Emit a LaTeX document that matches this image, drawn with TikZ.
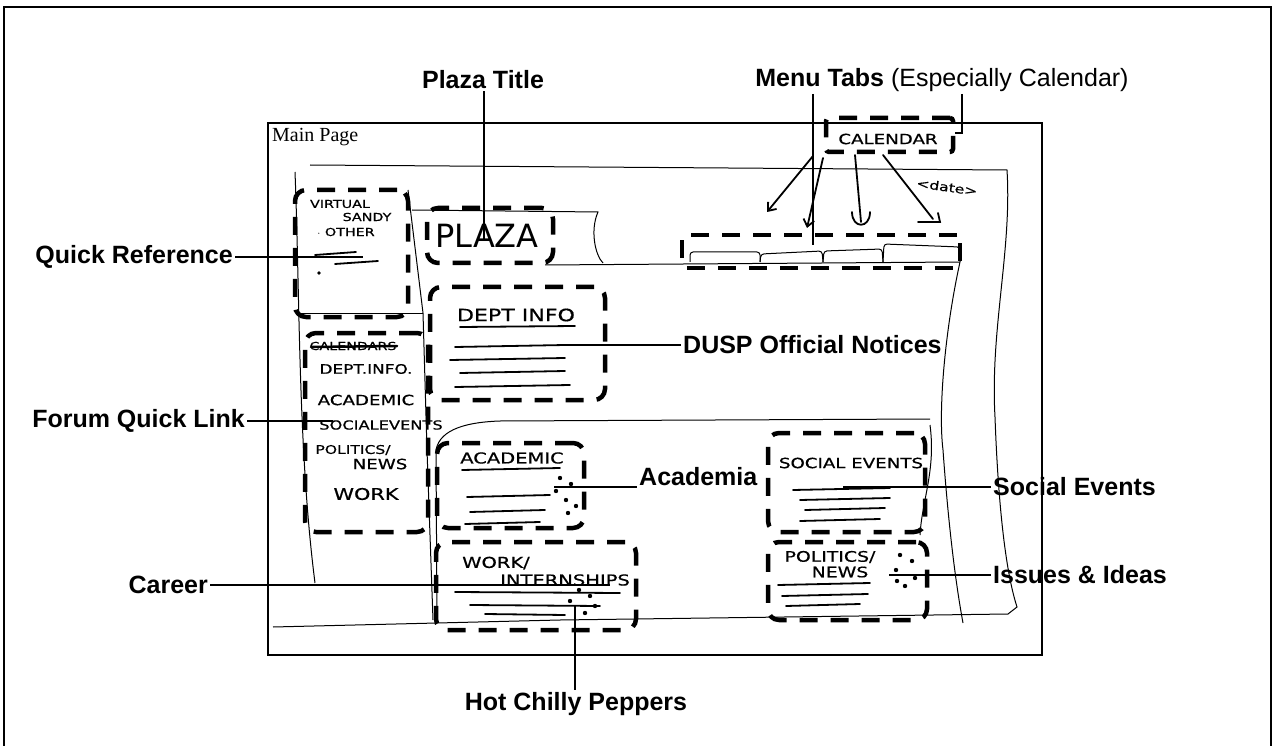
\documentclass[tikz,border=0pt]{standalone}
\usepackage{fontspec}
\setmainfont{Liberation Sans}
\newfontfamily\pagefont{Liberation Serif}
\newfontfamily\handfont[FakeStretch=1.3,FakeBold=0.6]{DejaVu Sans}
\newfontfamily\plazafont{DejaVu Sans}
\usetikzlibrary{positioning,arrows.meta}

\begin{document}
\begin{tikzpicture}[x=1pt,y=-1pt,
  callout/.style={font=\fontsize{25}{28}\selectfont\bfseries,inner sep=2pt},
  pointer/.style={line width=1.3pt},
  sketch/.style={line width=1pt},
  scrawl/.style={line width=1.8pt,line cap=round},
  dashbox/.style={draw,line width=4.5pt,dash pattern=on 18pt off 13pt,rounded corners=11pt,inner sep=0pt},
  hand/.style={font=\handfont\fontsize{#1}{#1}\selectfont,inner sep=0pt},
  hand/.default=12]
  \useasboundingbox (0,0) rectangle (1275,746);

  % frames
  \draw[line width=1.2pt] (4,746) -- (4,7) -- (1271,7) -- (1271,746);
  \draw[line width=1.5pt] (268,123) rectangle (1042,655);
  \node[font=\pagefont\fontsize{20}{22}\selectfont,anchor=north west,inner sep=0pt] (mainpage) at (272,128) {Main Page};

  % page sketch outline
  \draw[sketch] (310,165) -- (1007,170) .. controls (1012,250) and (990,330) .. (995,417)
    .. controls (998,500) and (1005,570) .. (1017,607) -- (1008,614) -- (560,620) -- (273,627);
  \draw[sketch] (295,172) .. controls (300,300) and (298,450) .. (315,583);
  \draw[sketch] (408,190) -- (423,313) -- (427,450) -- (433,620);
  \draw[sketch] (437,620) -- (436,450) .. controls (440,428) and (470,422) .. (500,421) -- (930,419);
  \draw[sketch] (960,262) .. controls (945,330) and (938,410) .. (943,450)
    .. controls (948,520) and (955,580) .. (963,623);
  \draw[sketch] (930,425) .. controls (936,470) and (922,500) .. (920,535);
  \draw[sketch] (300,313) -- (423,313);
  \draw[sketch] (412,210) -- (598,212) .. controls (590,230) and (595,255) .. (603,263);
  \draw[sketch] (545,265) -- (960,262);

  % tabs
  \draw[sketch,rounded corners=3pt] (690,262) -- (690,252) -- (760,252) -- (760,262);
  \draw[sketch,rounded corners=3pt] (760,262) -- (761,254) -- (822,251) -- (823,262);
  \draw[sketch,rounded corners=3pt] (823,262) -- (824,251) -- (882,249) -- (883,262);
  \draw[sketch,rounded corners=3pt] (883,262) -- (884,244) -- (960,247) -- (960,262);

  % dashed regions
  \node[dashbox,minimum width=113pt,minimum height=127pt] (qrefbox) at (351.5,253.5) {};
  \node[dashbox,minimum width=126pt,minimum height=55pt] (plazabox) at (490,235.5) {};
  \node[dashbox,minimum width=123pt,minimum height=199pt] (forumbox) at (366.5,432.5) {};
  \node[dashbox,minimum width=175pt,minimum height=113pt] (deptbox) at (517.5,343.5) {};
  \node[dashbox,minimum width=147pt,minimum height=85pt] (acadbox) at (510.5,485.5) {};
  \node[dashbox,minimum width=200pt,minimum height=88pt] (workbox) at (536,586) {};
  \node[dashbox,minimum width=157pt,minimum height=99pt] (socialbox) at (846.5,482.5) {};
  \node[dashbox,minimum width=159pt,minimum height=78pt] (polbox) at (847.5,581) {};
  \node[dashbox,rounded corners=3pt,minimum width=127pt,minimum height=34pt] (calbox) at (889.5,135) {};
  \node[dashbox,rounded corners=3pt,minimum width=278pt,minimum height=33pt] (tabsbox) at (821,251.5) {};

  % handwriting
  \node[hand=11] (virtual) at (340,204) {VIRTUAL};
  \node[hand=11] (sandy) at (367,217) {SANDY};
  \node[hand=11] (other) at (346,232) {$\cdot$ OTHER};
  \draw[scrawl] (315,255) -- (356,252);
  \draw[scrawl] (335,264) -- (378,261);
  \fill (319,273) circle[radius=1.8pt];
  \node[font=\plazafont\fontsize{32}{32}\selectfont,inner sep=0pt] (plaza) at (487,236) {PLAZA};
  \node[hand=17] (deptinfo) at (516,315) {DEPT INFO};
  \draw[scrawl] (460,327) -- (575,326);
  \foreach \y/\a/\b in {347/455/565,360/450/565,373/460/565,387/455/570}
    \draw[scrawl] (\a,\y) -- (\b,\y-2);
  \node[hand=11] (struck) at (353,346) {CALENDARS};
  \draw[scrawl,line width=2.5pt] (311,347) -- (397,346);
  \node[hand=13] (fdept) at (366,369) {DEPT.INFO.};
  \node[hand=14] (facad) at (366,400) {ACADEMIC};
  \node[hand=12.5] (fsocial) at (381,425) {SOCIALEVENTS};
  \node[hand=12] (fpol) at (353,450) {POLITICS/};
  \node[hand=14] (fnews) at (380,464) {NEWS};
  \node[hand=16] (fwork) at (366,494) {WORK};
  \node[hand=15] (acadtxt) at (512,458) {ACADEMIC};
  \draw[scrawl] (462,470) -- (560,468);
  \foreach \y/\a/\b in {497/467/550,512/470/545,524/465/540}
    \draw[scrawl] (\a,\y) -- (\b,\y-2);
  \node[hand=15] (worktxt) at (496,563) {WORK/};
  \node[hand=15] (interntxt) at (565,580) {INTERNSHIPS};
  \foreach \y/\a/\b in {592/455/620,605/470/600,614/485/565}
    \draw[scrawl] (\a,\y) -- (\b,\y+1);
  \node[hand=14] (socialtxt) at (851,463) {SOCIAL EVENTS};
  \foreach \y/\a/\b in {490/793/890,500/800/890,510/805/885,521/800/880}
    \draw[scrawl] (\a,\y) -- (\b,\y-2);
  \node[hand=14.5] (poltxt) at (830,557) {POLITICS/};
  \node[hand=14.5] (newstxt) at (840,572) {NEWS};
  \foreach \y/\a/\b in {585/778/870,596/782/868,606/786/860}
    \draw[scrawl] (\a,\y) -- (\b,\y-2);
  \node[hand=14] (caltxt) at (888,139) {CALENDAR};
  \node[hand=12,rotate=-8] (datenote) at (947,187) {<date>};

  % hot chilly peppers
  \foreach \p in {(560,478),(571,484),(556,491),(566,500),(576,506),(568,513),
                  (579,590),(590,596),(595,606),(585,613),(570,601),
                  (900,555),(912,561),(896,570),(915,578),(905,586),(897,581)}
    \fill \p circle[radius=2.2pt];

  % calendar arrows
  \draw[scrawl,-{Straight Barb[length=7pt,width=11pt]}] (813,156) -- (767,212);
  \draw[scrawl,-{Straight Barb[length=7pt,width=11pt]}] (823,158) -- (807,228);
  \draw[scrawl] (855,155) -- (861,222);
  \draw[scrawl] (852,212) .. controls (852,229) and (870,229) .. (870,212);
  \draw[scrawl] (883,155) -- (933,219);
  \draw[scrawl] (918,222) -- (940,222) -- (938,213);

  % callouts
  \node[callout] (plazat) at (483,80) {Plaza Title};
  \coordinate (plazapt) at (484,240);
  \draw[pointer] (plazat.south -| plazapt) -- (plazapt);

  \node[callout] (menut) at (942,80) {Menu Tabs {\mdseries(Especially Calendar)}};
  \coordinate (tabspt) at (813,245);
  \draw[pointer] (menut.south -| tabspt) -- (tabspt);
  \coordinate (calpt) at (962,133);
  \draw[pointer] (menut.south -| calpt) -- (calpt) -- (calbox.east |- calpt);

  \node[callout,anchor=east] (qreft) at (235,257) {Quick Reference};
  \coordinate (qrefpt) at (363,257);
  \draw[pointer] (qreft) -- (qrefpt);

  \node[callout,anchor=east] (forumt) at (247,421) {Forum Quick Link};
  \coordinate (forumpt) at (333,421);
  \draw[pointer] (forumt) -- (forumpt);

  \node[callout,anchor=west] (duspt) at (681,345) {DUSP Official Notices};
  \coordinate (deptpt) at (557,345);
  \draw[pointer] (deptpt) -- (duspt);

  \node[callout,anchor=west] (acadt) at (637,477) {Academia};
  \coordinate (acadpt) at (554,487);
  \draw[pointer] (acadpt) -- (acadpt -| acadt.west);

  \node[callout,anchor=west] (socialt) at (991,487) {Social Events};
  \coordinate (socialpt) at (843,487);
  \draw[pointer] (socialpt) -- (socialt);

  \node[callout,anchor=west] (issuest) at (991,575) {Issues \& Ideas};
  \coordinate (issuespt) at (889,575);
  \draw[pointer] (issuespt) -- (issuest);

  \node[callout,anchor=east] (careert) at (210,585) {Career};
  \coordinate (careerpt) at (610,585);
  \draw[pointer] (careert) -- (careerpt);

  \node[callout] (hott) at (576,704) {Hot Chilly Peppers};
  \coordinate (hotpt) at (575,605);
  \draw[pointer] (hotpt) -- (hotpt |- hott.north);
\end{tikzpicture}
\end{document}
